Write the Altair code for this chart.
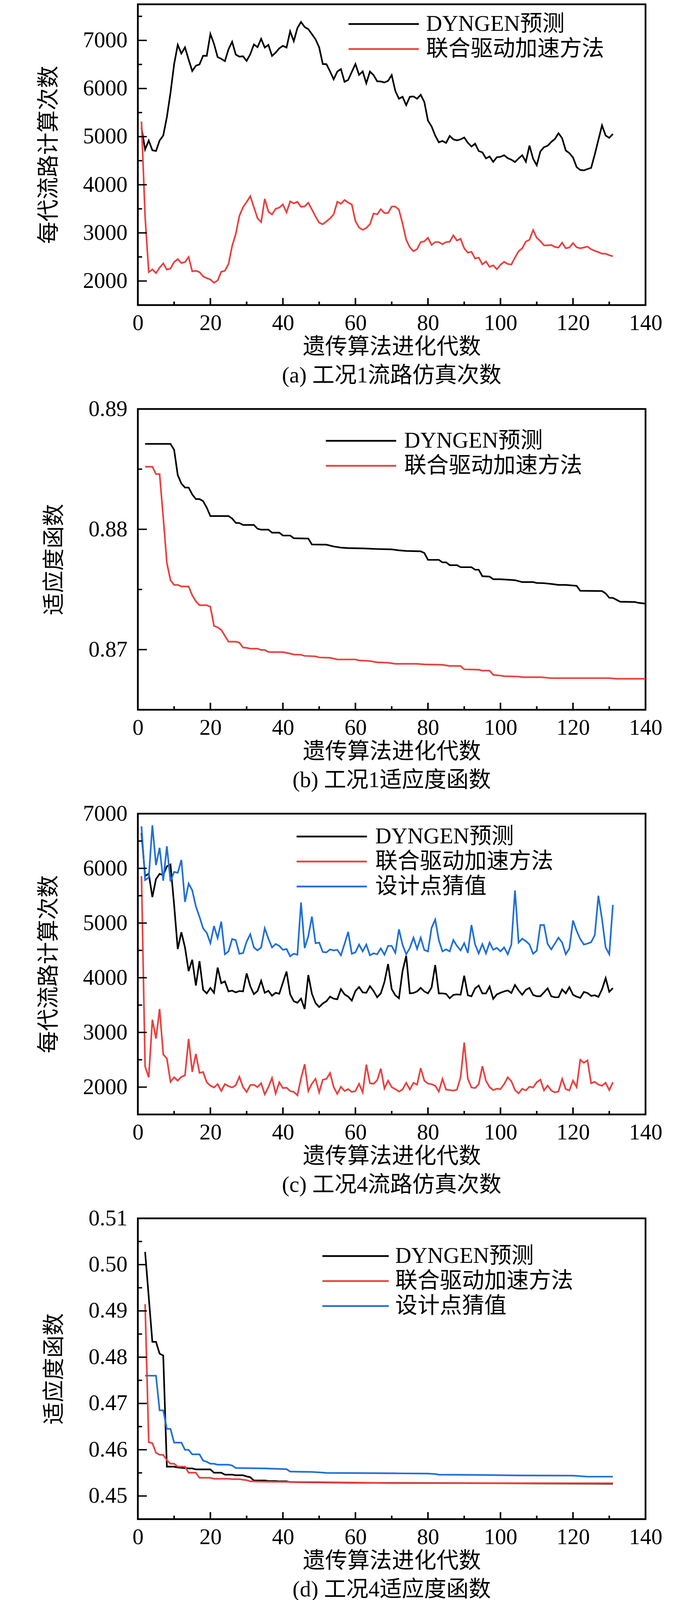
import altair as alt
import pandas as pd

FONT = "Liberation Serif, Times New Roman, Noto Sans CJK SC"
FS = 57
BLACK = "#000000"
RED = "#e8413f"
BLUE = "#1f6fd8"
W, H = 1300, 770

NAMES = ["DYNGEN预测", "联合驱动加速方法", "设计点猜值"]
X_LABELS = [0, 20, 40, 60, 80, 100, 120, 140]
X_MAJOR = [20, 40, 60, 80, 100, 120]
X_MINOR = [10, 30, 50, 70, 90, 110, 130]

# ---------------- panel (a) ----------------
a_x = list(range(1, 132))
a_dyngen = [5184, 4733, 4919, 4717, 4701, 4919, 5023, 5406, 5909, 6505,
            6907, 6726, 6855, 6600, 6364, 6473, 6501, 6682, 6678, 7133,
            6928, 6654, 6618, 6569, 6815, 6972, 6706, 6662, 6670, 6573,
            6714, 6915, 6859, 7032, 6851, 6907, 6678, 6746, 6835, 6887,
            6851, 7189, 6984, 7258, 7382, 7278, 7234, 7129, 7024, 6855,
            6509, 6505, 6356, 6191, 6352, 6404, 6138, 6179, 6344, 6509,
            6283, 6356, 6110, 6352, 6279, 6150, 6146, 6126, 6159, 6279,
            5949, 5788, 5828, 5655, 5828, 5836, 5788, 5869, 5720, 5333,
            5212, 5023, 4882, 4910, 4870, 5015, 4943, 4923, 4943, 4983,
            4874, 4794, 4854, 4701, 4673, 4548, 4588, 4476, 4572, 4580,
            4613, 4552, 4520, 4472, 4548, 4613, 4480, 4814, 4540, 4407,
            4693, 4782, 4810, 4890, 4951, 5072, 4967, 4713, 4657, 4568,
            4367, 4307, 4299, 4327, 4351, 4629, 4931, 5233, 5023, 4975,
            5055]
a_joint = [5313, 3332, 2185, 2241, 2165, 2278, 2366, 2237, 2261, 2394,
           2455, 2374, 2394, 2499, 2201, 2213, 2185, 2096, 2060, 2032,
           1963, 2012, 2193, 2213, 2354, 2728, 2978, 3353, 3534, 3642,
           3763, 3534, 3304, 3224, 3707, 3441, 3381, 3501, 3526, 3590,
           3425, 3655, 3614, 3646, 3542, 3550, 3626, 3485, 3340, 3212,
           3179, 3240, 3300, 3385, 3646, 3606, 3683, 3630, 3590, 3244,
           3111, 3063, 3103, 3179, 3401, 3385, 3493, 3413, 3413, 3546,
           3546, 3481, 3192, 2857, 2700, 2620, 2664, 2809, 2825, 2898,
           2749, 2809, 2809, 2765, 2809, 2817, 2950, 2841, 2878, 2680,
           2588, 2608, 2467, 2487, 2346, 2406, 2294, 2326, 2245, 2338,
           2398, 2354, 2342, 2487, 2620, 2680, 2821, 2857, 3059, 2898,
           2829, 2741, 2741, 2749, 2708, 2696, 2797, 2680, 2696, 2789,
           2700, 2680, 2696, 2716, 2660, 2628, 2600, 2568, 2568, 2535,
           2515]
a_ylabels = [2000, 3000, 4000, 5000, 6000, 7000]
a_yminor = [2500, 3500, 4500, 5500, 6500, 7500]

# ---------------- panel (b) ----------------
b_dyngen_x = [2, 9, 10, 11, 12, 13, 14, 15, 16, 17, 18, 19, 20, 25, 26, 27, 28, 29, 32, 33,
              34, 36, 37, 39, 40, 42, 43, 47, 48, 52, 54, 56, 58, 62, 66, 70, 72, 74, 78, 79,
              80, 83, 84, 85, 86, 88, 89, 92, 93, 94, 95, 97, 98, 100, 103, 104, 106, 109, 110, 112,
              114, 116, 118, 121, 122, 128, 129, 130, 131, 133, 137, 138, 140]
b_dyngen_y = [0.8871, 0.8871, 0.88661, 0.88451, 0.8838, 0.88347, 0.88347, 0.8829, 0.88251, 0.88251,
              0.88234, 0.8818, 0.8811, 0.8811, 0.8809, 0.88054, 0.88052, 0.88036, 0.88036, 0.88005,
              0.87997, 0.87997, 0.87972, 0.87972, 0.87948, 0.87948, 0.87926, 0.87923, 0.87874, 0.87872,
              0.87857, 0.87848, 0.87844, 0.87841, 0.87836, 0.87833, 0.87825, 0.8782, 0.87817, 0.87803,
              0.87746, 0.87746, 0.87725, 0.87725, 0.87702, 0.87702, 0.87685, 0.87685, 0.87664, 0.87664,
              0.8761, 0.87607, 0.87585, 0.87585, 0.87579, 0.87577, 0.87561, 0.87561, 0.87554, 0.87552,
              0.87546, 0.87538, 0.87538, 0.8753, 0.87489, 0.87487, 0.87467, 0.87431, 0.8743, 0.87398,
              0.87396, 0.87389, 0.87382]
b_joint_x = [2, 4, 5, 6, 7, 8, 9, 10, 11, 12, 14, 15, 16, 17, 19, 20, 21, 22, 23, 25,
             27, 28, 29, 30, 31, 33, 34, 35, 36, 40, 42, 43, 45, 46, 49, 50, 53, 55, 60, 61,
             64, 66, 69, 71, 77, 79, 84, 86, 89, 90, 94, 95, 97, 98, 100, 101, 105, 106, 111, 114,
             130, 132, 140]
b_joint_y = [0.8852, 0.8852, 0.88459, 0.88459, 0.8810, 0.8772, 0.87577, 0.87538, 0.87538, 0.87525,
             0.87525, 0.87451, 0.87402, 0.87369, 0.87369, 0.87356, 0.87197, 0.87185, 0.87164, 0.87066,
             0.87066, 0.87058, 0.87017, 0.87015, 0.87008, 0.87008, 0.86997, 0.86997, 0.8698, 0.86979,
             0.86967, 0.86959, 0.86957, 0.86948, 0.86944, 0.86935, 0.86932, 0.86918, 0.86918, 0.8691,
             0.86905, 0.86894, 0.86891, 0.86882, 0.86882, 0.86877, 0.86874, 0.86864, 0.86864, 0.86836,
             0.86833, 0.86825, 0.86825, 0.8679, 0.86784, 0.86779, 0.86776, 0.86771, 0.86771, 0.86763,
             0.86763, 0.86758, 0.86758]
b_ylabels = [0.87, 0.88, 0.89]
b_yminor = [0.875, 0.885]

# ---------------- panel (c) ----------------
c_x = list(range(1, 132))
c_dyngen = [6650, 5857, 5904, 5475, 5804, 5900, 5875, 6036, 6071, 5330,
            4525, 4832, 4554, 4121, 4329, 3857, 4304, 3779, 3714, 3814,
            3725, 4186, 3900, 3932, 3750, 3764, 3732, 3757, 3750, 4079,
            3846, 3700, 3757, 3943, 3725, 3761, 3672, 3725, 3707, 3911,
            4114, 3696, 3571, 3543, 3618, 3429, 4050, 3707, 3536, 3464,
            3529, 3571, 3654, 3618, 3607, 3793, 3696, 3654, 3582, 3757,
            3829, 3732, 3725, 3846, 3757, 3643, 3714, 3921, 4250, 3793,
            3679, 3625, 4125, 4400, 3714, 3721, 3750, 3814, 3750, 3714,
            3821, 4232, 3714, 3714, 3704, 3625, 3686, 3696, 3689, 4036,
            3679, 3661, 3804, 3857, 3714, 3714, 3839, 3614, 3696, 3725,
            3750, 3768, 3721, 3868, 3768, 3689, 3779, 3814, 3686, 3661,
            3661, 3732, 3807, 3661, 3643, 3643, 3786, 3714, 3829, 3689,
            3654, 3632, 3739, 3721, 3668, 3679, 3650, 3786, 3993, 3743,
            3811]
c_joint = [5857, 2375, 2179, 3232, 2886, 3429, 2596, 2525, 2096, 2179,
           2118, 2189, 2214, 2882, 2279, 2607, 2261, 2275, 2089, 2025,
           1993, 2054, 1929, 2054, 2018, 1993, 2036, 2189, 2000, 1911,
           2036, 2043, 2000, 2071, 1868, 2000, 2168, 1882, 2089, 1982,
           1989, 1929, 1911, 1850, 2161, 2418, 1929, 2064, 2150, 1904,
           2136, 2150, 2257, 2000, 1875, 2007, 1929, 1964, 1911, 1929,
           2061, 1904, 2411, 2071, 2061, 2125, 2339, 1975, 2118, 2000,
           1964, 1918, 1957, 2079, 1957, 2079, 2046, 2346, 2118, 2064,
           2054, 2025, 1918, 2150, 1954, 1946, 1936, 1954, 2179, 2814,
           2150, 1993, 1982, 2054, 2382, 2114, 2000, 1946, 1971, 1964,
           2054, 2179, 2107, 1946, 1886, 1971, 1939, 2007, 1993, 2089,
           2136, 1939, 2029, 1939, 1904, 1921, 2150, 1964, 1939, 2118,
           2000, 2500, 2446, 2489, 2071, 2096, 2046, 2025, 2079, 1946,
           2089]
c_guess = [6768, 5786, 5832, 6786, 6061, 6375, 5775, 6404, 5761, 5936,
           5918, 6154, 5386, 5721, 5600, 5304, 5114, 4904, 4821, 4632,
           4946, 4725, 5025, 4429, 4482, 4707, 4686, 4439, 4450, 4661,
           4796, 4554, 4500, 4554, 4904, 4714, 4554, 4618, 4582, 4511,
           4525, 4393, 4439, 4421, 5375, 4543, 4757, 5118, 4632, 4643,
           4471, 4464, 4518, 4500, 4511, 4411, 4618, 4839, 4439, 4464,
           4607, 4482, 4607, 4411, 4446, 4429, 4536, 4421, 4582, 4582,
           4454, 4886, 4600, 4429, 4543, 4732, 4529, 4732, 4507, 4482,
           4911, 5064, 4686, 4482, 4518, 4482, 4689, 4582, 4500, 4632,
           4454, 4964, 4607, 4446, 4614, 4446, 4643, 4511, 4546, 4482,
           4554, 4429, 4607, 5596, 4643, 4714, 4668, 4607, 4439, 4493,
           4964, 4964, 4618, 4518, 4625, 4732, 4643, 4429, 4536, 5046,
           4857, 4707, 4607, 4625, 4650, 4779, 5500, 5071, 4554, 4429,
           5332]
c_ylabels = [2000, 3000, 4000, 5000, 6000, 7000]
c_yminor = [2500, 3500, 4500, 5500, 6500]

# ---------------- panel (d) ----------------
d_dyngen_x = [2, 4, 5, 6, 7, 8, 10, 11, 14, 15, 16, 20, 21, 23, 24, 26, 27, 29, 30, 31,
              32, 35, 36, 38, 39, 41, 42, 50, 60, 80, 100, 120, 131]
d_dyngen_y = [0.50275, 0.48331, 0.48331, 0.48077, 0.48035, 0.45634, 0.45634, 0.45617, 0.45596, 0.45596,
              0.45575, 0.45575, 0.45503, 0.45503, 0.45461, 0.45461, 0.45448, 0.45448, 0.45423, 0.45406,
              0.45334, 0.45334, 0.45325, 0.45325, 0.45317, 0.45317, 0.453, 0.45295, 0.45285, 0.4528,
              0.45275, 0.45268, 0.45265]
d_joint_x = [2, 3, 4, 5, 6, 7, 8, 9, 10, 11, 13, 14, 16, 17, 20, 21, 25, 26, 28, 29,
             30, 31, 35, 50, 71, 100, 131]
d_joint_y = [0.49147, 0.46162, 0.46141, 0.45934, 0.45892, 0.45888, 0.45774, 0.45697, 0.45697, 0.45634,
             0.45634, 0.45503, 0.45503, 0.45393, 0.45393, 0.45372, 0.45372, 0.45364, 0.45364, 0.45351,
             0.45342, 0.45317, 0.45309, 0.453, 0.45279, 0.45277, 0.45275]
d_guess_x = [2, 5, 6, 7, 8, 9, 10, 12, 13, 14, 15, 17, 18, 19, 20, 21, 22, 25, 26, 27,
             35, 41, 42, 48, 50, 52, 71, 80, 82, 83, 95, 105, 120, 124, 131]
d_guess_y = [0.476, 0.476, 0.46851, 0.46851, 0.4645, 0.4645, 0.46154, 0.46154, 0.45998, 0.45998,
             0.459, 0.459, 0.45765, 0.4574, 0.45697, 0.45697, 0.45676, 0.45676, 0.45659, 0.45604,
             0.45596, 0.45579, 0.45528, 0.4552, 0.45511, 0.45499, 0.4549, 0.45485, 0.45475, 0.45462,
             0.45455, 0.45445, 0.4544, 0.45418, 0.45418]
d_ylabels = [0.45, 0.46, 0.47, 0.48, 0.49, 0.50, 0.51]
d_yminor = [0.455, 0.465, 0.475, 0.485, 0.495, 0.505]


def long_df(series):
    rows = []
    for name, xs, ys in series:
        for x, y in zip(xs, ys):
            rows.append({"x": x, "y": y, "series": name})
    return pd.DataFrame(rows)


def panel(df, names, colors, ydom, ylabels, yminor, yfmt, ytitle, caption,
          lx, ly, lpath, loff):
    xscale = alt.Scale(domain=[0, 140], nice=False, zero=False)
    yscale = alt.Scale(domain=ydom, nice=False, zero=False)
    xaxis = alt.Axis(values=X_LABELS, format="d", title="遗传算法进化代数",
                     ticks=False, tickSize=0, domain=False, grid=False,
                     labelFont=FONT, labelFontSize=FS, labelColor="black",
                     labelPadding=18, labelFlush=False, labelOverlap=False,
                     titleFont=FONT, titleFontSize=FS, titleFontWeight="normal",
                     titleColor="black", titlePadding=5)
    yaxis = alt.Axis(values=ylabels, format=yfmt, title=ytitle,
                     ticks=False, tickSize=0, domain=False, grid=False,
                     labelFont=FONT, labelFontSize=FS, labelColor="black",
                     labelPadding=27, labelFlush=False, labelOverlap=False,
                     titleFont=FONT, titleFontSize=FS, titleFontWeight="normal",
                     titleColor="black", titlePadding=58)
    legend = alt.Legend(orient="none", legendX=lx, legendY=ly, title=None,
                        symbolType=lpath, symbolSize=1600, symbolStrokeWidth=4.5,
                        labelFont=FONT, labelFontSize=FS, labelColor="black",
                        labelOffset=loff, labelLimit=0, rowPadding=6, padding=0)
    lines = alt.Chart(df).mark_line(strokeWidth=4.2).encode(
        x=alt.X("x:Q", scale=xscale, axis=xaxis),
        y=alt.Y("y:Q", scale=yscale, axis=yaxis),
        color=alt.Color("series:N", scale=alt.Scale(domain=names, range=colors),
                        legend=legend),
    )
    xt_major = alt.Chart(pd.DataFrame({"x": X_MAJOR})).mark_rule(
        color="black", strokeWidth=4).encode(
        x=alt.X("x:Q", scale=xscale, axis=xaxis), y=alt.value(H), y2=alt.value(H - 18))
    xt_minor = alt.Chart(pd.DataFrame({"x": X_MINOR})).mark_rule(
        color="black", strokeWidth=4).encode(
        x=alt.X("x:Q", scale=xscale, axis=xaxis), y=alt.value(H), y2=alt.value(H - 9))
    yt_major = alt.Chart(pd.DataFrame({"y": ylabels})).mark_rule(
        color="black", strokeWidth=3.5).encode(
        y=alt.Y("y:Q", scale=yscale, axis=yaxis), x=alt.value(0), x2=alt.value(23))
    yt_minor = alt.Chart(pd.DataFrame({"y": yminor})).mark_rule(
        color="black", strokeWidth=3.5).encode(
        y=alt.Y("y:Q", scale=yscale, axis=yaxis), x=alt.value(0), x2=alt.value(11))
    return alt.layer(lines, xt_major, xt_minor, yt_major, yt_minor).properties(
        width=W, height=H,
        title=alt.TitleParams(caption, orient="bottom", anchor="middle", font=FONT,
                              fontSize=FS, fontWeight="normal", color="black", offset=18),
    )


df_a = long_df([(NAMES[0], a_x, a_dyngen), (NAMES[1], a_x, a_joint)])
df_b = long_df([(NAMES[0], b_dyngen_x, b_dyngen_y), (NAMES[1], b_joint_x, b_joint_y)])
df_c = long_df([(NAMES[0], c_x, c_dyngen), (NAMES[1], c_x, c_joint), (NAMES[2], c_x, c_guess)])
df_d = long_df([(NAMES[0], d_dyngen_x, d_dyngen_y), (NAMES[1], d_joint_x, d_joint_y),
                (NAMES[2], d_guess_x, d_guess_y)])

PATH180 = "M-4.5,0H4.5"
PATH170 = "M-4.25,0H4.25"

pa = panel(df_a, NAMES[:2], [BLACK, RED], [1500, 7750], a_ylabels, a_yminor, "d",
           "每代流路计算次数", "(a) 工况1流路仿真次数", 601, 22, PATH180, 80)
pb = panel(df_b, NAMES[:2], [BLACK, RED], [0.865, 0.89], b_ylabels, b_yminor, ".2f",
           "适应度函数", "(b) 工况1适应度函数", 543, 53, PATH180, 82)
pc = panel(df_c, NAMES, [BLACK, RED, BLUE], [1500, 7000], c_ylabels, c_yminor, "d",
           "每代流路计算次数", "(c) 工况4流路仿真次数", 468, 30, PATH180, 83)
pd_ = panel(df_d, NAMES, [BLACK, RED, BLUE], [0.445, 0.51], d_ylabels, d_yminor, ".2f",
            "适应度函数", "(d) 工况4适应度函数", 529, 68, PATH170, 73)

chart = alt.vconcat(pa, pb, pc, pd_, spacing=22).resolve_scale(
    color="independent").configure_view(
    stroke="black", strokeWidth=4.5).properties(
    padding={"left": 85, "top": 0, "right": 5, "bottom": 0},
    background="white")

chart.save("out.html", embed_options={"renderer": "svg", "actions": False})
